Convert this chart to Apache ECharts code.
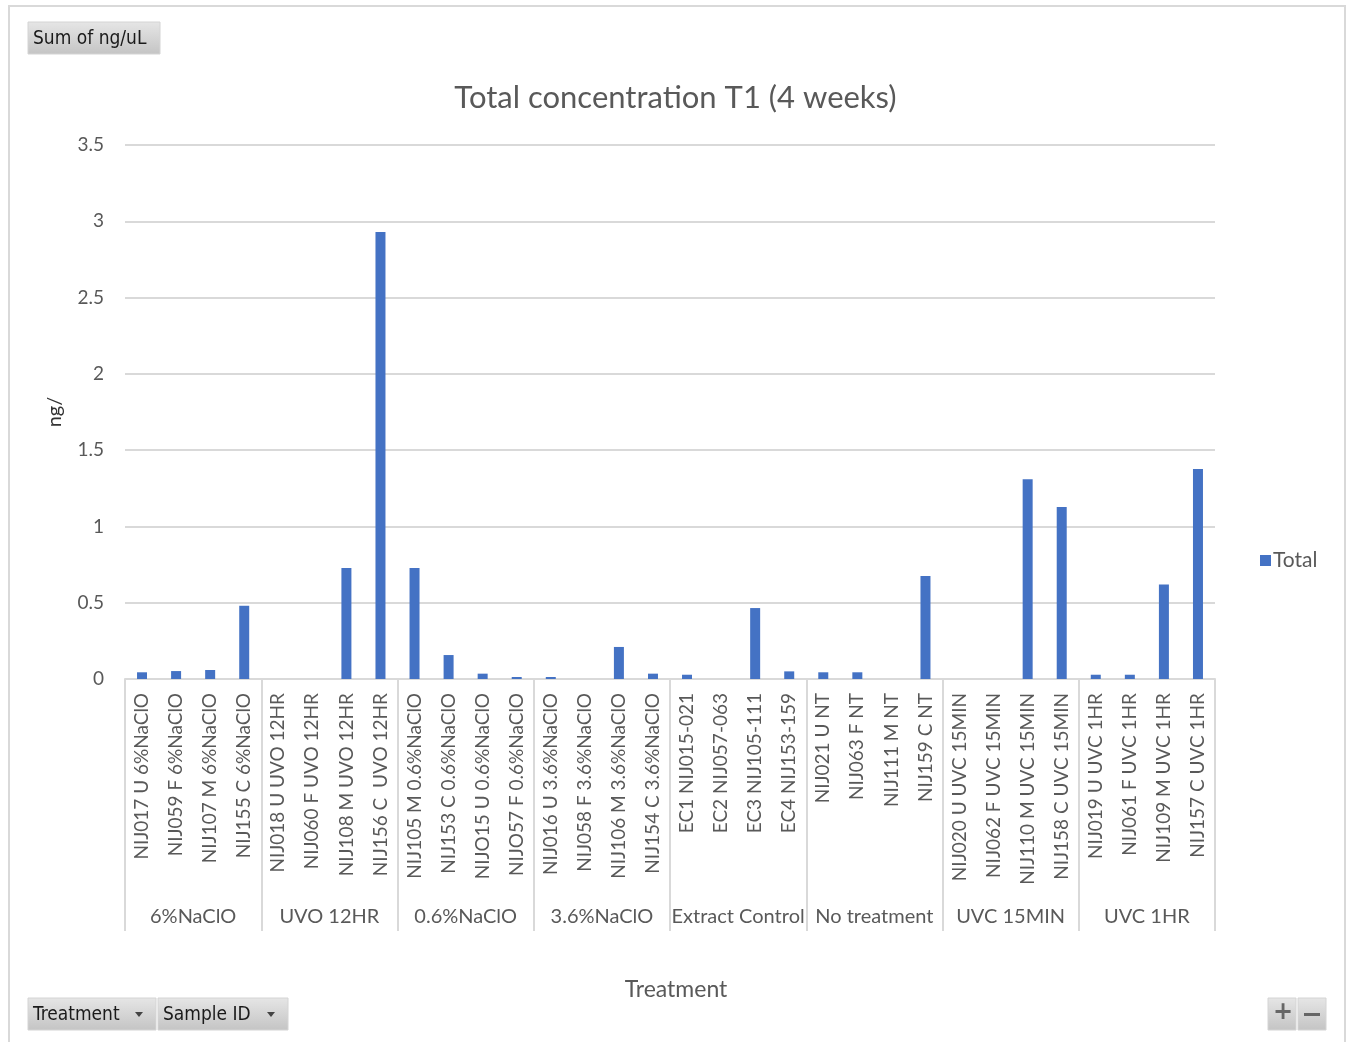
<!DOCTYPE html>
<html>
<head>
<meta charset="utf-8">
<script src="https://cdn.jsdelivr.net/npm/echarts@6/dist/echarts.min.js"></script>
<style>html,body{margin:0;padding:0;background:#fff;}#c{width:1351px;height:1042px;}</style>
</head>
<body>
<div id="c"></div>
<script>
var samples = [
  "NIJ017 U 6%NaClO","NIJ059 F 6%NaClO","NIJ107 M 6%NaClO","NIJ155 C 6%NaClO",
  "NIJ018 U UVO 12HR","NIJ060 F UVO 12HR","NIJ108 M UVO 12HR","NIJ156 C  UVO 12HR",
  "NIJ105 M 0.6%NaClO","NIJ153 C 0.6%NaClO","NIJO15 U 0.6%NaClO","NIJO57 F 0.6%NaClO",
  "NIJ016 U 3.6%NaClO","NIJ058 F 3.6%NaClO","NIJ106 M 3.6%NaClO","NIJ154 C 3.6%NaClO",
  "EC1 NIJ015-021","EC2 NIJ057-063","EC3 NIJ105-111","EC4 NIJ153-159",
  "NIJ021 U NT","NIJ063 F NT","NIJ111 M NT","NIJ159 C NT",
  "NIJ020 U UVC 15MIN","NIJ062 F UVC 15MIN","NIJ110 M UVC 15MIN","NIJ158 C UVC 15MIN",
  "NIJ019 U UVC 1HR","NIJ061 F UVC 1HR","NIJ109 M UVC 1HR","NIJ157 C UVC 1HR"
];
var groups = ["6%NaClO","UVO 12HR","0.6%NaClO","3.6%NaClO","Extract Control","No treatment","UVC 15MIN","UVC 1HR"];
var totals = [
  0.044, 0.052, 0.059, 0.48,
  null, null, 0.727, 2.93,
  0.727, 0.157, 0.035, 0.013,
  0.013, null, 0.21, 0.035,
  0.028, null, 0.465, 0.05,
  0.044, 0.044, null, 0.675,
  null, null, 1.31, 1.127,
  0.028, 0.028, 0.62, 1.376
];
var yTicks = {min: 0, max: 3.5, interval: 0.5};

var FONT = 'Lato, "Open Sans", sans-serif';
var GREY = '#595959';
var LINE = '#d9d9d9';

function button(x, y, w, h, label, arrow) {
  var els = [{
    type: 'rect', shape: {x: x, y: y, width: w, height: h},
    style: {fill: new echarts.graphic.LinearGradient(0, 0, 0, 1, [{offset: 0, color: '#e6e6e6'}, {offset: 1, color: '#c4c4c4'}]), stroke: '#d4d4d4', lineWidth: 1}
  }, {
    type: 'text', left: x + 5, top: y + 8,
    style: {text: label, font: '19px "DejaVu Sans Condensed", "Liberation Sans", sans-serif', fill: '#1a1a1a'}
  }];
  if (arrow) {
    els.push({
      type: 'polygon', shape: {points: [[x + w - 21, y + 14], [x + w - 13, y + 14], [x + w - 17, y + 19]]},
      style: {fill: '#444'}
    });
  }
  return els;
}

var graphics = [
  {type: 'rect', shape: {x: 9, y: 6, width: 1336, height: 1040}, style: {fill: 'none', stroke: LINE, lineWidth: 2}}
];
graphics = graphics.concat(button(28, 22, 132, 32, 'Sum of ng/uL', false));
graphics = graphics.concat(button(28, 998, 128, 32, 'Treatment', true));
graphics = graphics.concat(button(158, 998, 130, 32, 'Sample ID', true));
graphics = graphics.concat(button(1268, 998, 28, 32, '', false));
graphics = graphics.concat(button(1298, 998, 28, 32, '', false));
graphics.push({type: 'text', left: 1273, top: 1001, style: {text: '+', font: 'bold 24px "DejaVu Sans", sans-serif', fill: '#666'}});
graphics.push({type: 'rect', shape: {x: 1304, y: 1013, width: 16, height: 3}, style: {fill: '#666'}});

var chart = echarts.init(document.getElementById('c'));
chart.setOption({
  animation: false,
  backgroundColor: '#fff',
  title: {
    text: 'Total concentration T1 (4 weeks)', left: 'center', top: 77,
    textStyle: {fontFamily: FONT, fontSize: 31, fontWeight: 'normal', color: GREY}
  },
  legend: {
    data: ['Total'], left: 1255, top: 545, orient: 'vertical',
    itemWidth: 11, itemHeight: 11, itemGap: 4, icon: 'rect',
    textStyle: {fontFamily: FONT, fontSize: 21, color: GREY, padding: [0, 0, 0, -3]}
  },
  grid: {left: 125, right: 136, top: 145, bottom: 363, containLabel: false},
  xAxis: [{
    type: 'category', data: samples, position: 'bottom',
    axisLine: {show: true, lineStyle: {color: LINE, width: 2}},
    axisTick: {show: false},
    axisLabel: {interval: 0, rotate: 90, margin: 14, fontFamily: FONT, fontSize: 19, color: GREY}
  }, {
    type: 'category', data: groups, position: 'bottom',
    axisLine: {show: false},
    axisTick: {show: true, interval: 0, length: 252, lineStyle: {color: LINE, width: 2}},
    axisLabel: {interval: 0, margin: 228, fontFamily: FONT, fontSize: 20, color: GREY},
    name: 'Treatment', nameLocation: 'middle', nameGap: 299,
    nameTextStyle: {fontFamily: FONT, fontSize: 23, color: GREY, padding: [0, 0, 0, 12]}
  }],
  yAxis: {
    type: 'value', min: yTicks.min, max: yTicks.max, interval: yTicks.interval,
    axisLine: {show: false}, axisTick: {show: false},
    splitLine: {lineStyle: {color: LINE, width: 2}},
    axisLabel: {margin: 21, fontFamily: FONT, fontSize: 19, color: GREY},
    name: 'ng/', nameLocation: 'middle', nameGap: 60, nameRotate: 90,
    nameTextStyle: {fontFamily: FONT, fontSize: 20, color: '#333'}
  },
  series: [{
    name: 'Total', type: 'bar', data: totals, xAxisIndex: 0,
    barWidth: 10, itemStyle: {color: '#4472C4'}
  }],
  graphic: graphics
});
</script>
</body>
</html>
